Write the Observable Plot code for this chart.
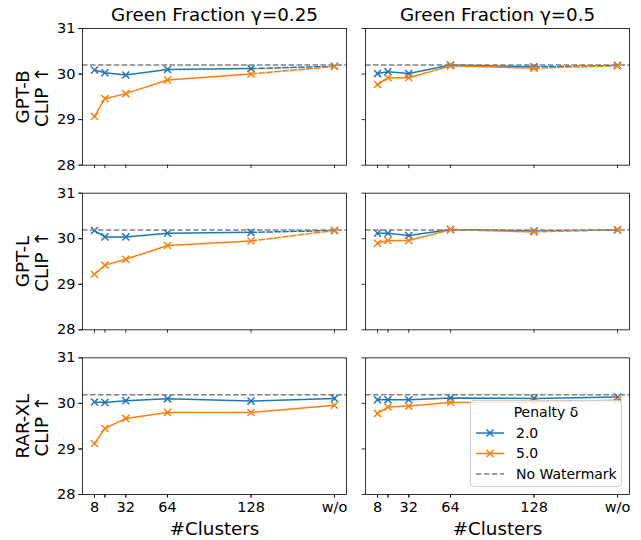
<!DOCTYPE html>
<html><head><meta charset="utf-8">
<script src="https://cdn.jsdelivr.net/npm/d3@7"></script>
<script src="https://cdn.jsdelivr.net/npm/@observablehq/plot@0.6"></script>
<style>
body{margin:0;background:#fff;}
#wrap{position:relative;width:641px;height:540px;font-family:"DejaVu Sans";}
#legend{position:absolute;left:470px;top:400px;}
</style></head><body><div id="wrap"></div>
<script>
const models = ["GPT-B","GPT-L","RAR-XL"];
const gammas = ["0.25","0.5"];
const deltas = ["2.0","5.0"];
const deltaColors = ["#1f77b4","#ff7f0e"];
const clusters = [8,16,32,64,128,192];
const clusterLabels = ["8","","32","64","128","w/o"];
const noWatermark = [30.2, 30.19, 30.19];
const dashedTail = [true, true, false];
const yTicks = [28,29,30,31];
const xLabel = "#Clusters";
const yLabelSuffix = "CLIP ↑";
const titlePrefix = "Green Fraction γ=";
const legendTitle = "Penalty δ";
const legendNoWM = "No Watermark";

const gptB_g025_d20 = [30.09,30.03,29.98,30.10,30.12,30.17];
const gptB_g025_d50 = [29.07,29.46,29.57,29.87,30.00,30.17];
const gptB_g05_d20  = [30.01,30.05,30.01,30.20,30.16,30.19];
const gptB_g05_d50  = [29.77,29.92,29.92,30.18,30.13,30.18];
const gptL_g025_d20 = [30.18,30.04,30.04,30.12,30.14,30.18];
const gptL_g025_d50 = [29.22,29.42,29.55,29.85,29.95,30.18];
const gptL_g05_d20  = [30.12,30.12,30.07,30.20,30.17,30.19];
const gptL_g05_d50  = [29.90,29.96,29.96,30.20,30.15,30.20];
const rarXL_g025_d20 = [30.03,30.02,30.06,30.10,30.05,30.11];
const rarXL_g025_d50 = [29.12,29.45,29.67,29.80,29.80,29.96];
const rarXL_g05_d20  = [30.08,30.08,30.08,30.12,30.11,30.14];
const rarXL_g05_d50  = [29.78,29.92,29.94,30.02,30.03,30.07];

const series = [
  ["GPT-B","0.25","2.0",gptB_g025_d20],["GPT-B","0.25","5.0",gptB_g025_d50],
  ["GPT-B","0.5","2.0",gptB_g05_d20],["GPT-B","0.5","5.0",gptB_g05_d50],
  ["GPT-L","0.25","2.0",gptL_g025_d20],["GPT-L","0.25","5.0",gptL_g025_d50],
  ["GPT-L","0.5","2.0",gptL_g05_d20],["GPT-L","0.5","5.0",gptL_g05_d50],
  ["RAR-XL","0.25","2.0",rarXL_g025_d20],["RAR-XL","0.25","5.0",rarXL_g025_d50],
  ["RAR-XL","0.5","2.0",rarXL_g05_d20],["RAR-XL","0.5","5.0",rarXL_g05_d50]
];
const rows = [];
for (const [model,gamma,delta,vals] of series) {
  const dashed = dashedTail[models.indexOf(model)];
  vals.forEach((v,i) => rows.push({model,gamma,delta,key:model+"|"+gamma+"|"+delta,clusters:clusters[i],clip:v,dashed}));
}
const labelOf = new Map(clusters.map((c,i)=>[c,clusterLabels[i]]));
const dash = "5.55,2.4";
const big = 18.3;
const marks = [];
for (const d of deltas) {
  const r = rows.filter(o => o.delta === d);
  marks.push(Plot.line(r.filter(o => !o.dashed || o.clusters <= 128), {x:"clusters", y:"clip", z:"key", stroke:"delta", fx:"gamma", fy:"model", strokeWidth:1.5}));
  marks.push(Plot.line(r.filter(o => o.dashed && o.clusters >= 128), {x:"clusters", y:"clip", z:"key", stroke:"delta", fx:"gamma", fy:"model", strokeWidth:1.5, strokeDasharray:dash}));
  marks.push(Plot.dot(r, {x:"clusters", y:"clip", stroke:"delta", symbol:"times", r:3.3, strokeWidth:1.5, fx:"gamma", fy:"model"}));
}
const nw = models.map((m,i)=>({model:m, v:noWatermark[i]}));
marks.push(Plot.ruleY(nw, {y:"v", fy:"model", stroke:"#808080", strokeWidth:1.5, strokeDasharray:dash}));
marks.push(Plot.frame({stroke:"black", strokeWidth:0.8}));
marks.push(Plot.axisY({ticks:yTicks, tickSize:3.5, tickPadding:3.5, strokeWidth:0.8, fontSize:14.5, label:null, tickFormat:d=>String(d)}));
marks.push(Plot.axisY({ticks:yTicks, tickSize:3.5, strokeWidth:0.8, label:null, tickFormat:()=>"", facetAnchor:null}));
marks.push(Plot.axisX({ticks:clusters, tickSize:3.5, tickPadding:3.5, strokeWidth:0.8, fontSize:14.5, label:null, tickFormat:d=>labelOf.get(d)}));
marks.push(Plot.axisX({ticks:clusters, tickSize:3.5, strokeWidth:0.8, label:null, tickFormat:()=>"", facetAnchor:null}));
marks.push(Plot.text(gammas.map(g=>({gamma:g, model:models[0]})), {fx:"gamma", fy:"model", text:d=>titlePrefix+d.gamma, frameAnchor:"top", dy:-13, lineAnchor:"middle", fontSize:big, fill:"black"}));
marks.push(Plot.text(gammas.map(g=>({gamma:g, model:models[models.length-1]})), {fx:"gamma", fy:"model", text:()=>xLabel, frameAnchor:"bottom", dy:35, lineAnchor:"middle", fontSize:big, fill:"black"}));
marks.push(Plot.text(models.map(m=>({gamma:gammas[0], model:m})), {fx:"gamma", fy:"model", text:d=>d.model+"\n"+yLabelSuffix, frameAnchor:"left", dx:-50, rotate:-90, textAnchor:"middle", lineAnchor:"middle", lineHeight:1.0, fontSize:big, fill:"black"}));

const chart = Plot.plot({
  width:641, height:540,
  marginLeft:82, marginRight:12, marginTop:28, marginBottom:46,
  x:{domain:[-1.2,201.2]},
  y:{domain:[28,31]},
  color:{domain:deltas, range:deltaColors},
  fx:{domain:gammas, paddingInner:19/283, paddingOuter:0, round:false, axis:null, label:null},
  fy:{domain:models, paddingInner:28/164.67, paddingOuter:0, round:false, axis:null, label:null},
  style:{fontFamily:"DejaVu Sans", fontSize:"14px", background:"white", color:"black"},
  marks
});
const wrap = document.getElementById("wrap");
wrap.appendChild(chart);

// legend
const lg = d3.select(wrap).append("div").attr("id","legend");
const W = 152, H = 87;
const svg = lg.append("svg").attr("width",W).attr("height",H).style("font-family","DejaVu Sans").style("display","block");
svg.append("rect").attr("x",0.5).attr("y",0.5).attr("width",W-1).attr("height",H-1).attr("rx",3)
  .attr("fill","rgba(255,255,255,0.8)").attr("stroke","#cccccc").attr("stroke-width",1);
svg.append("text").attr("x",W/2).attr("y",12).attr("dy","0.35em").attr("text-anchor","middle").attr("font-size",14).text(legendTitle);
const entries = deltas.map((d,i)=>({label:d, color:deltaColors[i], marker:true, dash:null})).concat([{label:legendNoWM, color:"#808080", marker:false, dash:dash}]);
entries.forEach((e,i)=>{
  const y = 33 + i*20.5;
  svg.append("line").attr("x1",6).attr("x2",34).attr("y1",y).attr("y2",y).attr("stroke",e.color).attr("stroke-width",1.5).attr("stroke-dasharray",e.dash);
  if (e.marker) svg.append("path").attr("d","M-3.5,-3.5L3.5,3.5M-3.5,3.5L3.5,-3.5").attr("transform",`translate(20,${y})`).attr("stroke",e.color).attr("stroke-width",1.5);
  svg.append("text").attr("x",46).attr("y",y).attr("dy","0.35em").attr("font-size",14).text(e.label);
});
</script></body></html>
